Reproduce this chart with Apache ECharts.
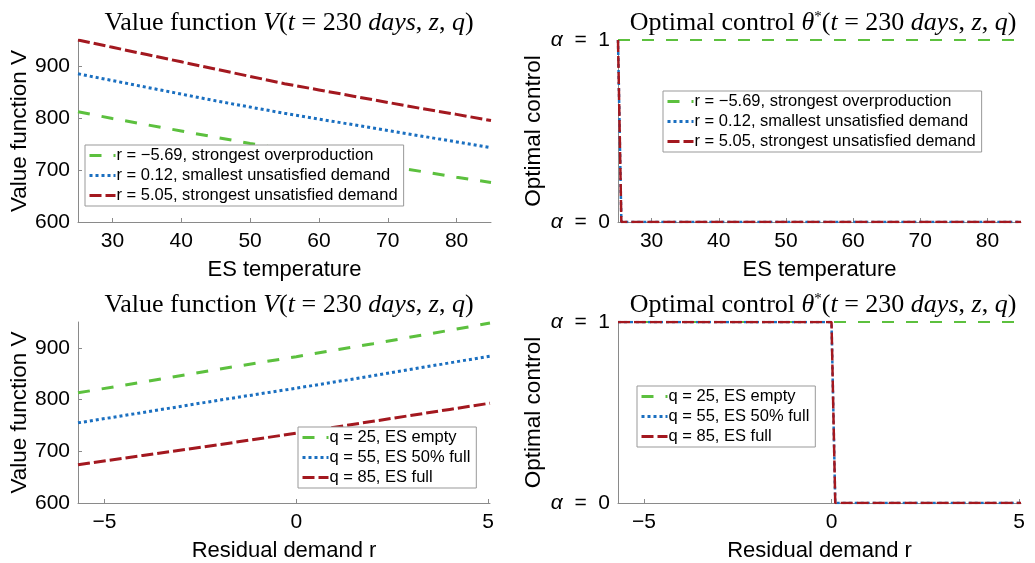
<!DOCTYPE html>
<html>
<head>
<meta charset="utf-8">
<script src="https://cdn.jsdelivr.net/npm/echarts@6.0.0/dist/echarts.min.js"></script>
<style>
html, body { margin: 0; padding: 0; background: #fff; }
#main { width: 1035px; height: 563px; }
</style>
</head>
<body>
<div id="main"></div>
<script>
// ---- data ----
var zTemp = [25, 30, 35, 40, 45, 50, 55, 60, 65, 70, 75, 80, 85];
var vTempOver   = [812, 799, 787, 775, 763, 751, 740, 729, 718, 707, 697, 686, 676];
var vTempSmall  = [885, 872, 859, 846, 833, 821, 809, 798, 787, 776, 765, 754, 743];
var vTempStrong = [950, 936, 922, 908, 894, 880, 866, 854, 842, 830, 818, 807, 795];

var rDemand = [-5.69, -4, -2, 0, 2, 4, 5.05];
var vDemandEmpty = [813, 834, 859, 883, 908, 934, 948];
var vDemandHalf  = [755, 775, 799, 822, 846, 871, 884];
var vDemandFull  = [674, 692, 713, 735, 758, 781, 793];

var ctrlTempX = [25, 25.5, 85];
var ctrlTempOver   = [1, 1, 1];
var ctrlTempSmall  = [1, 0, 0];
var ctrlTempStrong = [1, 0, 0];

var ctrlDemandX = [-5.69, 0, 0.1, 5.05];
var ctrlDemandEmpty = [1, 1, 1, 1];
var ctrlDemandHalf  = [1, 1, 0, 0];
var ctrlDemandFull  = [1, 1, 0, 0];

var tempNames = ['r = \u22125.69, strongest overproduction', 'r = 0.12, smallest unsatisfied demand', 'r = 5.05, strongest unsatisfied demand'];
var demandNames = ['q = 25, ES empty', 'q = 55, ES 50% full', 'q = 85, ES full'];

var tempTicks = [30, 40, 50, 60, 70, 80];
var demandTicks = [-5, 0, 5];
var valueTicks = [600, 700, 800, 900];
var ctrlTicks = [0, 1];

function pairs(xs, ys) {
    var out = [];
    for (var i = 0; i < xs.length; i++) out.push([xs[i], ys[i]]);
    return out;
}

var green = '#5cc03e', blue = '#1a6fc0', red = '#a3181f';
var sans = 'Liberation Sans';
var serif = 'Liberation Serif';
var axisColor = '#8a8a8a';

function mkTitle(left, top, head, sym) {
    return {
        left: left, top: top, textAlign: 'center',
        text: '{n|' + head + ' }' + sym + '{n|(}{i|t}{n| = 230 }{i|days}{n|, }{i|z}{n|, }{i|q}{n|)}',
        textStyle: {
            fontSize: 26, fontFamily: serif, fontWeight: 'normal', color: '#000',
            rich: {
                n: {fontSize: 26, fontFamily: serif, color: '#000'},
                i: {fontSize: 26, fontFamily: serif, fontStyle: 'italic', color: '#000'},
                s: {fontSize: 15, fontFamily: serif, color: '#000', verticalAlign: 'top', padding: [0, 0, 12, 0]}
            }
        }
    };
}

function mkX(idx, min, max, ticks, name) {
    return {
        type: 'value', gridIndex: idx, min: min, max: max,
        name: name, nameLocation: 'middle', nameGap: 37,
        nameTextStyle: {fontSize: 22, fontFamily: sans, color: '#000'},
        axisLine: {onZero: false, lineStyle: {color: axisColor, width: 1}},
        axisTick: {inside: true, length: 4, customValues: ticks, lineStyle: {color: axisColor}},
        axisLabel: {
            customValues: ticks, fontSize: 21, fontFamily: sans, color: '#000', margin: 9,
            formatter: function (v) { return String(v).replace('-', '\u2212'); }
        },
        splitLine: {show: false}
    };
}

function mkY(idx, min, max, ticks, name, gap, fmt) {
    var ax = {
        type: 'value', gridIndex: idx, min: min, max: max,
        name: name, nameLocation: 'middle', nameGap: gap, nameRotate: 90,
        nameTextStyle: {fontSize: 22.5, fontFamily: sans, color: '#000'},
        axisLine: {show: true, onZero: false, lineStyle: {color: axisColor, width: 1}},
        axisTick: {show: true, inside: true, length: 4, customValues: ticks, lineStyle: {color: axisColor}},
        axisLabel: {customValues: ticks, fontSize: 21, fontFamily: sans, color: '#000', margin: 8},
        splitLine: {show: false}
    };
    if (fmt) {
        ax.axisLabel.formatter = function (v) { return '{a|\u03b1}  =  ' + v; };
        ax.axisLabel.rich = {a: {fontSize: 21, fontFamily: sans, fontStyle: 'italic', color: '#000'}};
    }
    return ax;
}

function mkLegend(names, left, top) {
    return {
        data: names, left: left, top: top, orient: 'vertical',
        selectedMode: false,
        backgroundColor: '#fff', borderColor: '#999', borderWidth: 1,
        padding: [2, 6, 2, 3], itemGap: 3, itemWidth: 26, itemHeight: 14,
        itemStyle: {opacity: 0, borderWidth: 0},
        lineStyle: {width: 3},
        textStyle: {fontSize: 16.5, fontFamily: sans, color: '#000', padding: [0, 0, 0, -4]}
    };
}

var greenDash = {color: green, width: 3, type: [12, 12]};
var blueDot = {color: blue, width: 3, type: [3, 3]};
var redDash = {color: red, width: 3, type: [12, 4]};

function ln(name, gi, data, style, w) {
    var st = {color: style.color, width: w || style.width, type: style.type};
    return {
        name: name, type: 'line', xAxisIndex: gi, yAxisIndex: gi,
        data: data, symbol: 'none', color: style.color,
        lineStyle: st, animation: false
    };
}

var chart = echarts.init(document.getElementById('main'), null, {renderer: 'canvas'});

var option = {
    backgroundColor: '#fff',
    animation: false,
    title: [
        mkTitle(284, 5, 'Value function', '{i|V}'),
        mkTitle(818, 5, 'Optimal control', '{i|\u03b8}{s|*}'),
        mkTitle(284, 287, 'Value function', '{i|V}'),
        mkTitle(818, 287, 'Optimal control', '{i|\u03b8}{s|*}')
    ],
    grid: [
        {left: 78, top: 40, width: 413, height: 182},
        {left: 618, top: 40, width: 403, height: 182},
        {left: 78, top: 322, width: 412, height: 181},
        {left: 618, top: 322, width: 403, height: 181}
    ],
    xAxis: [
        mkX(0, 25, 85, tempTicks, 'ES temperature'),
        mkX(1, 25, 85, tempTicks, 'ES temperature'),
        mkX(2, -5.69, 5.05, demandTicks, 'Residual demand r'),
        mkX(3, -5.69, 5.05, demandTicks, 'Residual demand r')
    ],
    yAxis: [
        mkY(0, 600, 950, valueTicks, 'Value function V', 46, false),
        mkY(1, 0, 1, ctrlTicks, 'Optimal control', 73, true),
        mkY(2, 600, 950, valueTicks, 'Value function V', 46, false),
        mkY(3, 0, 1, ctrlTicks, 'Optimal control', 73, true)
    ],
    legend: [
        mkLegend(tempNames, 85, 145),
        mkLegend(tempNames, 663, 91),
        mkLegend(demandNames, 298, 427),
        mkLegend(demandNames, 637, 386)
    ],
    series: [
        ln(tempNames[0], 0, pairs(zTemp, vTempOver), greenDash),
        ln(tempNames[1], 0, pairs(zTemp, vTempSmall), blueDot),
        ln(tempNames[2], 0, pairs(zTemp, vTempStrong), redDash),

        ln(tempNames[0], 1, pairs(ctrlTempX, ctrlTempOver), greenDash, 2),
        ln(tempNames[1], 1, pairs(ctrlTempX, ctrlTempSmall), blueDot, 2.5),
        ln(tempNames[2], 1, pairs(ctrlTempX, ctrlTempStrong), redDash, 2.5),

        ln(demandNames[0], 2, pairs(rDemand, vDemandEmpty), greenDash),
        ln(demandNames[1], 2, pairs(rDemand, vDemandHalf), blueDot),
        ln(demandNames[2], 2, pairs(rDemand, vDemandFull), redDash),

        ln(demandNames[0], 3, pairs(ctrlDemandX, ctrlDemandEmpty), greenDash, 2),
        ln(demandNames[1], 3, pairs(ctrlDemandX, ctrlDemandHalf), blueDot, 2.5),
        ln(demandNames[2], 3, pairs(ctrlDemandX, ctrlDemandFull), redDash, 2.5)
    ]
};

if (option && typeof option === 'object') {
    chart.setOption(option, true);
}
</script>
</body>
</html>
